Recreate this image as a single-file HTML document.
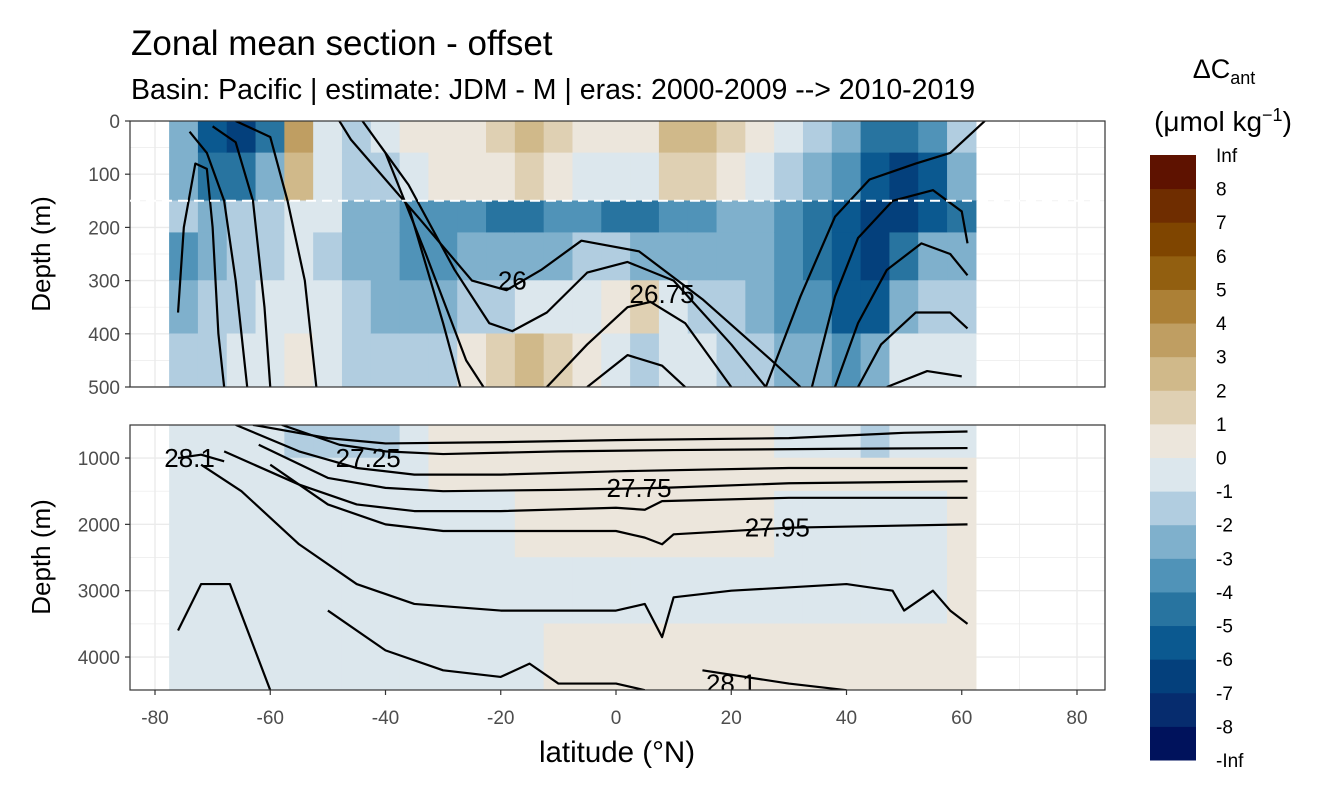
<!DOCTYPE html>
<html><head><meta charset="utf-8"><style>
body{margin:0;background:#fff}
svg text{font-family:"Liberation Sans",sans-serif}
</style></head><body>
<svg id="c" width="1344" height="806" viewBox="0 0 1344 806" xmlns="http://www.w3.org/2000/svg">
<defs>
<clipPath id="cpTop"><rect x="130" y="121" width="975" height="266"/></clipPath>
<clipPath id="cpBot"><rect x="130" y="425" width="975" height="265"/></clipPath>
</defs>
<text x="131" y="55" font-size="35" fill="#000">Zonal mean section - offset</text>
<text x="131" y="99" font-size="28.5" fill="#000">Basin: Pacific | estimate: JDM - M | eras: 2000-2009 --&gt; 2010-2019</text>
<g id="topPanel"></g>
<g id="botPanel"></g>
<g id="axesG"></g>
<text x="617" y="762" font-size="29.5" text-anchor="middle">latitude (°N)</text>
<text transform="translate(50,254) rotate(-90)" font-size="26" text-anchor="middle">Depth (m)</text>
<text transform="translate(50,557) rotate(-90)" font-size="26" text-anchor="middle">Depth (m)</text>
<text x="1224" y="78" font-size="27" text-anchor="middle">ΔC<tspan font-size="18" dy="6">ant</tspan></text>
<text x="1223" y="131" font-size="28" text-anchor="middle">(μmol kg<tspan font-size="18" dy="-10">−1</tspan><tspan dy="10">)</tspan></text>
<g id="legendG"></g>
</svg>
<script>
const NS='http://www.w3.org/2000/svg';
const colors=['#00125c','#062c6e','#04407c','#0b5990','#2874a0','#5093b8','#7fb0cc','#b1cde0','#dce7ed','#ece6dc','#dfd0b3','#d0b98a','#bf9e62','#ac8036','#925f10','#7f4500','#6f2d00','#5e1200'];
const legendLabels=['-Inf','-8','-7','-6','-5','-4','-3','-2','-1','0','1','2','3','4','5','6','7','8','Inf'];
const latCenters=[-75,-70,-65,-60,-55,-50,-45,-40,-35,-30,-25,-20,-15,-10,-5,0,5,10,15,20,25,30,35,40,45,50,55,60];
const topDepthEdges=[0,60,150,210,300,400,500];
const botDepthEdges=[500,1000,1500,2500,3500,4500];
const topValues=[
[-3,-3,-2,-4,-3,-2],[-6,-5,-3,-3,-2,-1.5],[-7,-5,-2,-2,-1.5,-1],[-5,-3,-1.5,-1.5,-1,-0.5],
[3,2,-0.5,-1,-0.5,0.5],[-1,-0.5,-1,-1.5,-1,-0.5],[-2,-1.5,-3,-3,-2,-1.5],[-1,-2,-3,-3,-3,-2],
[0.5,-0.5,-4,-4,-2.5,-2],[0.5,0.5,-4,-4,-3,-1.5],[0.5,0.5,-4,-3,-2,0.5],[1.5,0.5,-5,-3,-1.5,1.5],
[2,1,-5,-3,-1,2],[1.5,0.5,-4,-2.5,-0.5,1.5],[0.5,-0.5,-4,-2,-1,0.5],[0.5,-0.5,-5,-2,0.5,-0.5],
[0.5,-1,-5,-3,1,-1.5],[2,1.5,-4,-3,-1,-0.5],[2,1.5,-4,-3,-1.5,-1],[1,0.5,-3,-3,-2,-1.5],
[0.5,-0.5,-3,-3,-3,-2],[-1,-2,-4,-4,-4,-3],[-1.5,-3,-5,-5,-4,-3],[-3,-4,-6,-6,-6,-4],
[-5,-6,-7,-7,-6,-3],[-5,-7,-7,-5,-3,-1],[-4,-6,-6,-3,-2,-1],[-2,-3,-5,-3,-2,-1]];
const botValues=[
[-0.5,-0.5,-0.5,-0.5,-0.5],[-1,-0.5,-0.5,-0.5,-0.5],[-1,-0.5,-0.5,-0.5,-0.5],[-1,-0.5,-0.5,-0.5,-0.5],
[-1.5,-0.5,-0.5,-0.5,-0.5],[-2,-0.5,-0.5,-0.5,-0.5],[-2,-0.5,-0.5,-0.5,-0.5],[-1.5,-0.5,-0.5,-0.5,-0.5],
[-1,-0.5,-0.5,-0.5,-0.5],[0.5,0.5,-0.5,-0.5,-0.5],[0.5,0.5,-0.5,-0.5,-0.5],[0.5,0.5,-0.5,-0.5,-0.5],
[0.5,0.5,0.5,-0.5,-0.5],[0.5,0.5,0.5,-0.5,0.5],[0.5,0.5,0.5,-0.5,0.5],[0.5,0.5,0.5,-0.5,0.5],
[0.5,0.5,0.5,-0.5,0.5],[0.5,0.5,0.5,-0.5,0.5],[0.5,0.5,0.5,-0.5,0.5],[0.5,0.5,0.5,-0.5,0.5],
[0.5,0.5,0.5,-0.5,0.5],[-0.5,0.5,-0.5,-0.5,0.5],[-0.5,0.5,-0.5,-0.5,0.5],[-1,0.5,-0.5,-0.5,0.5],
[-1.5,0.5,-0.5,-0.5,0.5],[-1,0.5,-0.5,-0.5,0.5],[-0.5,0.5,-0.5,-0.5,0.5],[-0.5,0.5,0.5,0.5,0.5]];
const topLines=[
[[-76,360],[-75,200],[-73,80],[-71,90],[-70,200],[-69,400],[-68,500]],
[[-74,20],[-71,60],[-68,150],[-66,300],[-64,500]],
[[-70,10],[-66,40],[-63,150],[-61,350],[-60,500]],
[[-66,0],[-60,30],[-57,150],[-54,300],[-52,500]],
[[-48,0],[-46,35],[-34,185],[-25,300],[-19,318],[-13,280],[-6,225],[4,245],[15,335],[27,450],[32,500]],
[[-44,0],[-36,120],[-28,280],[-22,380],[-18,395],[-12,360],[-5,285],[2,265],[10,300],[20,420],[26,500]],
[[-40,60],[-33,250],[-26,450],[-23,500]],
[[-36,160],[-30,380],[-27,500]],
[[-12,500],[-5,420],[2,350],[6,340],[12,380],[18,470],[20,500]],
[[-5,500],[2,440],[8,460],[12,500]],
[[26,500],[32,330],[38,180],[44,110],[52,80],[58,60],[62,20],[64,0]],
[[34,500],[38,330],[42,220],[48,150],[55,130],[60,170],[61,230]],
[[38,500],[42,380],[47,280],[53,230],[58,250],[61,290]],
[[42,500],[46,420],[52,360],[58,360],[61,390]],
[[47,500],[54,470],[60,480]]];
const botLines=[
[[-63,500],[-50,700],[-40,780],[-20,760],[0,730],[30,700],[50,620],[61,600]],
[[-58,500],[-48,800],[-40,900],[-30,940],[-10,900],[10,880],[40,860],[61,850]],
[[-66,500],[-55,900],[-45,1150],[-35,1250],[-20,1250],[0,1200],[30,1150],[61,1150]],
[[-62,800],[-50,1300],[-40,1450],[-30,1500],[-10,1480],[8,1450],[30,1380],[61,1350]],
[[-68,900],[-55,1400],[-45,1700],[-35,1800],[-20,1800],[0,1750],[5,1780],[8,1650],[30,1600],[61,1600]],
[[-60,1100],[-50,1700],[-40,2000],[-30,2100],[-20,2100],[0,2100],[5,2200],[8,2300],[10,2150],[30,2050],[61,2000]],
[[-76,3600],[-72,2900],[-67,2900],[-60,4500]],
[[-72,1100],[-65,1500],[-55,2300],[-45,2900],[-35,3200],[-20,3300],[0,3300],[5,3200],[8,3700],[10,3100],[20,3000],[40,2900],[48,3000],[50,3300],[55,3000],[58,3300],[61,3500]],
[[-50,3300],[-40,3900],[-30,4200],[-20,4300],[-15,4100],[-10,4400],[0,4400],[5,4500]],
[[15,4200],[30,4400],[40,4500]],
[[-76,1000],[-72,950],[-68,1050]]];
const topLabels=[['26',-18,300],['26.75',8,325]];
const botLabels=[['28.1',-74,1000],['27.25',-43,1000],['27.75',4,1450],['27.95',28,2050],['28.1',20,4400]];
const xTicks=[-80,-60,-40,-20,0,20,40,60,80];
const topTicks=[0,100,200,300,400,500];
const botTicks=[1000,2000,3000,4000];

const X=lat=>616+lat*5.7625;
const YT=d=>121+d*0.532;
const YB=d=>391.7+d*0.06633;
const colorOf=v=>colors[Math.max(0,Math.min(17,Math.floor(v)+9))];
function mk(tag,attrs,parent){const e=document.createElementNS(NS,tag);for(const k in attrs)e.setAttribute(k,attrs[k]);parent.appendChild(e);return e;}
const topG=document.getElementById('topPanel'),botG=document.getElementById('botPanel'),axesG=document.getElementById('axesG');

function panel(g,y0,h,Y,ticks,minor,cp,values,edges,lines,labels){
  mk('rect',{x:130,y:y0,width:975,height:h,fill:'#fff'},g);
  const grid=mk('g',{'clip-path':'url(#'+cp+')'},g);
  for(let l=-90;l<=90;l+=10){mk('line',{x1:X(l),x2:X(l),y1:y0,y2:y0+h,stroke:'#ebebeb','stroke-width':l%20===0?1.4:0.7},grid);}
  minor.forEach(d=>mk('line',{x1:130,x2:1105,y1:Y(d),y2:Y(d),stroke:'#ebebeb','stroke-width':0.7},grid));
  ticks.forEach(d=>mk('line',{x1:130,x2:1105,y1:Y(d),y2:Y(d),stroke:'#ebebeb','stroke-width':1.4},grid));
  const cells=mk('g',{'clip-path':'url(#'+cp+')'},g);
  latCenters.forEach((lat,i)=>{
    values[i].forEach((v,j)=>{
      const r=mk('rect',{x:X(lat-2.5)-0.3,y:Y(edges[j])-0.3,width:5*5.7625+0.6,height:Y(edges[j+1])-Y(edges[j])+0.6,fill:colorOf(v)},cells);
      
      
    });
  });
  const lg=mk('g',{'clip-path':'url(#'+cp+')'},g);
  lines.forEach(pts=>{
    const p=mk('polyline',{points:pts.map(q=>X(q[0])+','+Y(q[1])).join(' '),fill:'none',stroke:'#000','stroke-width':2.2,'stroke-linejoin':'round'},lg);
    
    
  });
  labels.forEach(l=>{
    const t=mk('text',{x:X(l[1]),y:Y(l[2])+9,'font-size':26,'text-anchor':'middle'},lg);
    t.textContent=l[0];
    
    
  });
  mk('rect',{x:130,y:y0,width:975,height:h,fill:'none',stroke:'#333','stroke-width':1.2},g);
  ticks.forEach(d=>{
    mk('line',{x1:125,x2:130,y1:Y(d),y2:Y(d),stroke:'#333','stroke-width':1.2},axesG);
    const t=mk('text',{x:120,y:Y(d)+7,'font-size':19,fill:'#4d4d4d','text-anchor':'end'},axesG);
    t.textContent=d;
    
    
  });
}
panel(topG,121,266,YT,topTicks,[50,150,250,350,450],'cpTop',topValues,topDepthEdges,topLines,topLabels);
mk('line',{x1:130,x2:1105,y1:YT(150),y2:YT(150),stroke:'#fff','stroke-width':2,'stroke-dasharray':'10,6'},topG);
panel(botG,425,265,YB,botTicks,[1500,2500,3500],'cpBot',botValues,botDepthEdges,botLines,botLabels);
xTicks.forEach(l=>{
  mk('line',{x1:X(l),x2:X(l),y1:690,y2:695,stroke:'#333','stroke-width':1.2},axesG);
  const t=mk('text',{x:X(l),y:724,'font-size':19,fill:'#4d4d4d','text-anchor':'middle'},axesG);
  t.textContent=l;
  
  
});
const leg=document.getElementById('legendG');
const bh=605/18;
colors.forEach((c,i)=>{
  const r=mk('rect',{x:1150,y:760-(i+1)*bh,width:46,height:bh+0.5,fill:c},leg);
  
  
});
legendLabels.forEach((s,i)=>{
  const t=mk('text',{x:1216,y:760-i*bh+7,'font-size':19,fill:'#000'},leg);
  t.textContent=s;
  
  
});
</script>
</body></html>
